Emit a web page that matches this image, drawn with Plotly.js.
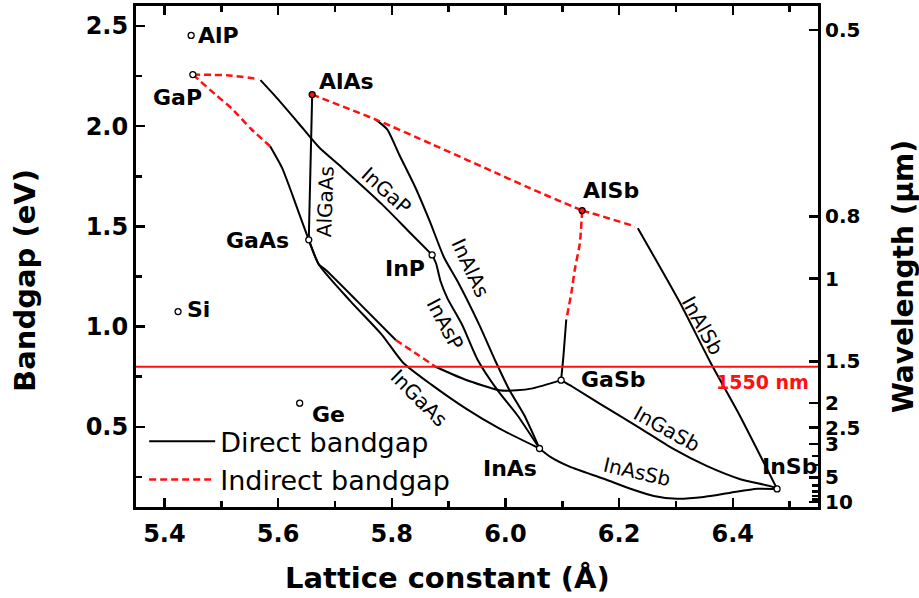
<!DOCTYPE html>
<html>
<head>
<meta charset="utf-8">
<script src="https://cdn.plot.ly/plotly-3.0.1.min.js"></script>
<style>
  html, body { margin: 0; padding: 0; background: #fff; }
  #chart { width: 919px; height: 598px; }
</style>
</head>
<body>
<div id="chart"></div>
<script>
// ---- Binary compounds: lattice constant (Å) and bandgap (eV) ----
const binaryNames   = ['AlP', 'GaP', 'AlAs', 'AlSb', 'GaAs', 'InP', 'Si', 'Ge', 'GaSb', 'InAs', 'InSb'];
const binaryLattice = [5.447, 5.450, 5.660, 6.135, 5.654, 5.871, 5.424, 5.638, 6.098, 6.060, 6.478];
const binaryGap     = [2.453, 2.258, 2.158, 1.579, 1.433, 1.358, 1.075, 0.618, 0.733, 0.392, 0.190];
const indirectBinaries = ['AlAs', 'AlSb'];

// ---- Ternary alloys, direct-gap branches ----
const inGaPX   = [5.569, 5.595, 5.636, 5.672, 5.713, 5.783, 5.830, 5.871];
const inGaPY   = [2.230, 2.150, 2.015, 1.895, 1.792, 1.610, 1.475, 1.358];
const gaAsPX   = [5.586, 5.607, 5.625, 5.642, 5.654];
const gaAsPY   = [1.900, 1.792, 1.659, 1.525, 1.433];
const alGaAsX  = [5.660, 5.654];
const alGaAsY  = [2.158, 1.433];
const inAlAsX  = [5.772, 5.792, 5.813, 5.842, 5.867, 5.892, 5.916, 5.954, 5.983, 6.007, 6.033, 6.060];
const inAlAsY  = [2.033, 1.984, 1.859, 1.692, 1.525, 1.345, 1.225, 1.009, 0.825, 0.684, 0.559, 0.392];
const inAsPX   = [5.871, 5.878, 5.886, 5.898, 5.924, 5.951, 5.986, 6.021, 6.060];
const inAsPY   = [1.358, 1.315, 1.225, 1.141, 1.008, 0.835, 0.683, 0.558, 0.392];
const inGaAsX  = [5.654, 5.672, 5.728, 5.783, 5.820, 5.871, 5.930, 5.989, 6.060];
const inGaAsY  = [1.433, 1.309, 1.125, 0.958, 0.820, 0.708, 0.592, 0.492, 0.392];
const gaAsSbAX = [5.654, 5.672, 5.683, 5.740, 5.807];
const gaAsSbAY = [1.433, 1.309, 1.285, 1.125, 0.933];
const gaAsSbBX = [5.877, 5.930, 5.989, 6.020, 6.048, 6.098];
const gaAsSbBY = [0.800, 0.735, 0.683, 0.682, 0.692, 0.733];
const alGaSbX  = [6.107, 6.102, 6.098];
const alGaSbY  = [1.033, 0.850, 0.733];
const inAlSbX  = [6.233, 6.306, 6.361, 6.412, 6.478];
const inAlSbY  = [1.491, 1.125, 0.820, 0.558, 0.190];
const inGaSbX  = [6.098, 6.118, 6.165, 6.236, 6.294, 6.354, 6.412, 6.471, 6.478];
const inGaSbY  = [0.733, 0.700, 0.617, 0.495, 0.392, 0.305, 0.240, 0.200, 0.190];
const inAsSbX  = [6.060, 6.079, 6.114, 6.173, 6.220, 6.261, 6.302, 6.349, 6.396, 6.443, 6.478];
const inAsSbY  = [0.392, 0.350, 0.300, 0.241, 0.191, 0.155, 0.141, 0.150, 0.171, 0.191, 0.190];

// ---- Indirect-gap branches ----
const gaPTopX    = [5.450, 5.510, 5.566];
const gaPTopY    = [2.258, 2.254, 2.236];
const gaPLowX    = [5.450, 5.489, 5.518, 5.553, 5.586];
const gaPLowY    = [2.258, 2.160, 2.090, 1.985, 1.900];
const alAsSbX    = [5.660, 5.772, 5.871, 5.989, 6.042, 6.135];
const alAsSbY    = [2.158, 2.033, 1.910, 1.760, 1.692, 1.579];
const alInSbIndX = [6.135, 6.151, 6.228];
const alInSbIndY = [1.579, 1.567, 1.500];
const alGaSbIndX = [6.135, 6.131, 6.122, 6.116, 6.107];
const alGaSbIndY = [1.579, 1.417, 1.284, 1.167, 1.033];
const gaAsSbIndX = [5.807, 5.842, 5.877];
const gaAsSbIndY = [0.933, 0.867, 0.800];

// ---- Wavelength axis (µm) and the telecom line ----
const HC_EV_UM = 1.24;
const wavelengthTicksUm = [0.5, 0.8, 1, 1.5, 2, 2.5, 3, 5, 10];
const wavelengthMinorUm = [3.5, 4, 6, 7, 8, 9];
const telecomWavelengthUm = 1.55;

const directSegments = [
  [inGaPX, inGaPY], [gaAsPX, gaAsPY], [alGaAsX, alGaAsY], [inAlAsX, inAlAsY],
  [inAsPX, inAsPY], [inGaAsX, inGaAsY], [gaAsSbAX, gaAsSbAY], [gaAsSbBX, gaAsSbBY],
  [alGaSbX, alGaSbY], [inAlSbX, inAlSbY], [inGaSbX, inGaSbY], [inAsSbX, inAsSbY]
];
const indirectSegments = [
  [gaPTopX, gaPTopY], [gaPLowX, gaPLowY], [alAsSbX, alAsSbY],
  [alInSbIndX, alInSbIndY], [alGaSbIndX, alGaSbIndY], [gaAsSbIndX, gaAsSbIndY]
];

const BLACK = '#000000';
const RED = '#ff1010';
const FONT = 'DejaVu Sans, Arial, sans-serif';

const traces = [];
directSegments.forEach(([x, y], i) => {
  traces.push({
    type: 'scatter', mode: 'lines', x, y,
    line: { color: BLACK, width: 2, shape: 'spline', smoothing: 0.6 },
    name: 'Direct bandgap', legendgroup: 'direct', legendrank: 1,
    showlegend: i === 0, hoverinfo: 'skip'
  });
});
indirectSegments.forEach(([x, y], i) => {
  traces.push({
    type: 'scatter', mode: 'lines', x, y,
    line: { color: RED, width: 2.5, dash: '7px,4px', shape: 'spline', smoothing: 0.6 },
    name: 'Indirect bandgap', legendgroup: 'indirect', legendrank: 2,
    showlegend: i === 0, hoverinfo: 'skip'
  });
});
traces.push({
  type: 'scatter', mode: 'markers', x: binaryLattice, y: binaryGap,
  text: binaryNames, showlegend: false, hoverinfo: 'skip',
  marker: {
    symbol: 'circle', size: 6,
    color: binaryNames.map(n => indirectBinaries.includes(n) ? RED : '#ffffff'),
    line: { color: BLACK, width: 1.3 }
  }
});
// keeps the wavelength axis bound to the plot
traces.push({ type: 'scatter', mode: 'none', x: [], y: [], yaxis: 'y2', showlegend: false, hoverinfo: 'skip' });

// Compound labels
const binaryLabels = [
  { text: 'AlP',  x: 5.456, y: 2.452, xanchor: 'left' },
  { text: 'GaP',  x: 5.423, y: 2.145, xanchor: 'center' },
  { text: 'AlAs', x: 5.720, y: 2.225, xanchor: 'center' },
  { text: 'GaAs', x: 5.564, y: 1.430, xanchor: 'center' },
  { text: 'InP',  x: 5.823, y: 1.288, xanchor: 'center' },
  { text: 'Si',   x: 5.436, y: 1.085, xanchor: 'left' },
  { text: 'Ge',   x: 5.689, y: 0.562, xanchor: 'center' },
  { text: 'GaSb', x: 6.191, y: 0.735, xanchor: 'center' },
  { text: 'InAs', x: 6.008, y: 0.290, xanchor: 'center' },
  { text: 'InSb', x: 6.500, y: 0.300, xanchor: 'center' },
  { text: 'AlSb', x: 6.185, y: 1.680, xanchor: 'center' }
];
const alloyLabels = [
  { text: 'InGaP',  x: 5.789, y: 1.680, angle: 42 },
  { text: 'AlGaAs', x: 5.683, y: 1.622, angle: -88 },
  { text: 'InAlAs', x: 5.939, y: 1.295, angle: 65 },
  { text: 'InAsP',  x: 5.894, y: 1.015, angle: 62 },
  { text: 'InGaAs', x: 5.848, y: 0.645, angle: 45 },
  { text: 'InGaSb', x: 6.284, y: 0.490, angle: 29 },
  { text: 'InAsSb', x: 6.232, y: 0.275, angle: 13 },
  { text: 'InAlSb', x: 6.346, y: 1.008, angle: 61 }
];

const annotations = [];
binaryLabels.forEach(l => annotations.push({
  text: l.text, x: l.x, y: l.y, xref: 'x', yref: 'y', xanchor: l.xanchor, yanchor: 'middle',
  showarrow: false, font: { family: FONT, size: 22, color: BLACK, weight: 'bold' }
}));
alloyLabels.forEach(l => annotations.push({
  text: l.text, x: l.x, y: l.y, xref: 'x', yref: 'y', textangle: l.angle,
  xanchor: 'center', yanchor: 'middle', showarrow: false,
  font: { family: FONT, size: 20, color: BLACK }
}));
annotations.push({
  text: '1550 nm', x: 6.538, y: 0.725, xref: 'x', yref: 'y', xanchor: 'right', showarrow: false,
  font: { family: FONT, size: 19, color: RED, weight: 'bold' }
});
// Axis titles
annotations.push({
  text: 'Lattice constant (Å)', xref: 'paper', yref: 'paper', x: 0.4567, y: -0.142,
  xanchor: 'center', yanchor: 'middle', showarrow: false,
  font: { family: FONT, size: 29, color: BLACK, weight: 'bold' }
});
annotations.push({
  text: 'Bandgap (eV)', xref: 'paper', yref: 'paper', x: -0.163, y: 0.453, textangle: -90,
  xanchor: 'center', yanchor: 'middle', showarrow: false,
  font: { family: FONT, size: 29, color: BLACK, weight: 'bold' }
});
annotations.push({
  text: 'Wavelength (μm)', xref: 'paper', yref: 'paper', x: 1.1246, y: 0.461, textangle: -90,
  xanchor: 'center', yanchor: 'middle', showarrow: false,
  font: { family: FONT, size: 28, color: BLACK, weight: 'bold' }
});

const tickFont = { family: FONT, size: 24, color: BLACK, weight: 'bold' };
const axisCommon = {
  ticks: 'inside', ticklen: 9, tickwidth: 2.5, tickcolor: BLACK,
  showline: true, linewidth: 3, linecolor: BLACK,
  showgrid: false, zeroline: false, tickfont: tickFont, fixedrange: true
};

const layout = {
  width: 919, height: 598,
  margin: { l: 136, r: 101, t: 6, b: 91, pad: 0 },
  paper_bgcolor: '#ffffff', plot_bgcolor: '#ffffff',
  showlegend: true,
  legend: {
    x: 0.012, y: 0.179, xanchor: 'left', yanchor: 'top',
    bgcolor: 'rgba(0,0,0,0)', borderwidth: 0,
    font: { family: FONT, size: 27, color: BLACK },
    itemwidth: 66, traceorder: 'normal', tracegroupgap: 0
  },
  xaxis: Object.assign({}, axisCommon, {
    range: [5.35, 6.55], tickmode: 'linear', tick0: 5.4, dtick: 0.2, tickformat: '.1f',
    mirror: 'ticks', ticklabelstandoff: 3,
    minor: { ticks: 'inside', tick0: 5.3, dtick: 0.1, ticklen: 6, tickwidth: 2.5, tickcolor: BLACK }
  }),
  yaxis: Object.assign({}, axisCommon, {
    range: [0.1, 2.6], tickmode: 'linear', tick0: 0.5, dtick: 0.5, tickformat: '.1f',
    minor: { ticks: 'inside', tick0: 0.25, dtick: 0.25, ticklen: 6, tickwidth: 2.5, tickcolor: BLACK }
  }),
  yaxis2: Object.assign({}, axisCommon, {
    overlaying: 'y', side: 'right', anchor: 'x', range: [0.1, 2.6],
    tickmode: 'array',
    tickvals: wavelengthTicksUm.map(w => HC_EV_UM / w),
    ticktext: wavelengthTicksUm.map(w => String(w)),
    tickfont: { family: FONT, size: 20, color: BLACK, weight: 'bold' },
    minor: { ticks: 'inside', tickmode: 'array', tickvals: wavelengthMinorUm.map(w => HC_EV_UM / w),
             ticklen: 6, tickwidth: 2.5, tickcolor: BLACK }
  }),
  shapes: [{
    type: 'line', xref: 'paper', x0: 0, x1: 1, yref: 'y',
    y0: HC_EV_UM / telecomWavelengthUm, y1: HC_EV_UM / telecomWavelengthUm,
    line: { color: RED, width: 2 }, layer: 'above'
  }],
  annotations
};

Plotly.newPlot('chart', traces, layout, { displayModeBar: false, staticPlot: true });
</script>
</body>
</html>
